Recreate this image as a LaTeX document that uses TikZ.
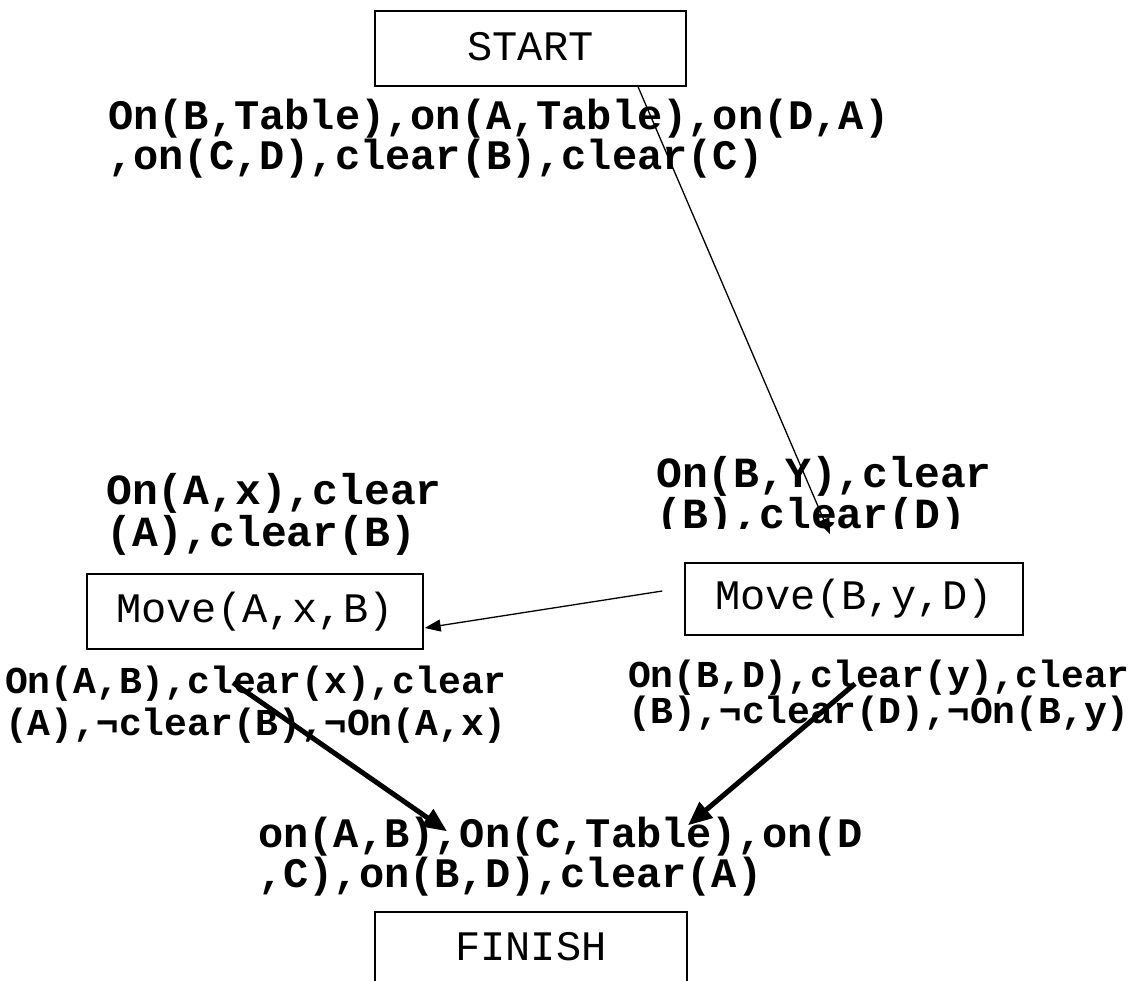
\documentclass[tikz,border=0pt]{standalone}
\usepackage{fontspec}
\newfontfamily\mono{Liberation Mono}
\usetikzlibrary{arrows.meta}
% bold condition text: #1 = size, #2 = line distance
\newcommand\condfont[2]{\mono\bfseries\fontsize{#1}{#2}\selectfont}
\begin{document}
\begin{tikzpicture}[
  x=1pt, y=-1pt,
  stepbox/.style={draw, line width=1.4pt, inner sep=0pt, minimum height=75pt,
    font=\mono\fontsize{42}{48}\selectfont},
  % multi-line nodes: the base anchor sits on the last line
  condl/.style={inner sep=0pt, align=left, anchor=base west},
  condc/.style={inner sep=0pt, align=center, anchor=base},
  thinarrow/.style={line width=1.3pt, -{Triangle[length=16pt,width=12pt]}},
  thickarrow/.style={line width=5pt, -{Triangle[length=24pt,width=20pt]}},
]
\useasboundingbox (0,0) rectangle (1133,981);
\clip (0,0) rectangle (1133,981);

% action boxes
\node[stepbox, minimum width=311pt] (start) at (530.5,48.5) {\raisebox{5pt}{START}};
\node[stepbox, minimum width=336pt] (moveA) at (255,611.5) {\raisebox{5pt}{Move(A,x,B)}};
\node[stepbox, minimum width=338pt, minimum height=72pt] (moveB) at (854,599) {\raisebox{3pt}{Move(B,y,D)}};
\node[stepbox, minimum width=312pt] (finish) at (531,949.5) {\raisebox{6pt}{FINISH}};

% conditions
\node[condl, font=\condfont{42}{40}] (initial) at (108,170)
  {On(B,Table),on(A,Table),on(D,A)\\,on(C,D),clear(B),clear(C)};
\node[condl, font=\condfont{43}{36}] (preA) at (106,546)
  {On(A,x),clear\\(A),clear(B)};
\begin{scope}
  \clip (0,0) rectangle (1133,528);
  \node[condl, font=\condfont{43}{42}] (preB) at (656,529)
    {On(B,Y),clear\\(B),clear(D)};
\end{scope}
\node[condc, font=\condfont{38}{42}] (effA) at (256,735)
  {On(A,B),clear(x),clear\\(A),¬clear(B),¬On(A,x)};
\node[condc, font=\condfont{38}{36}] (effB) at (879,723)
  {On(B,D),clear(y),clear\\(B),¬clear(D),¬On(B,y)};
\node[condl, font=\condfont{42}{40}] (goal) at (258,887)
  {on(A,B),On(C,Table),on(D\\,C),on(B,D),clear(A)};

% ordering links
\draw[thinarrow] ([xshift=107.5pt]start.south) -- ([xshift=-24pt,yshift=28pt]moveB.north);
\draw[thinarrow] ([xshift=-22pt,yshift=8pt]moveB.west) -- ([xshift=1pt,yshift=-16.5pt]moveA.east);
\draw[thickarrow] ([xshift=-22pt,yshift=-33pt]moveA.south) -- ([xshift=-84pt,yshift=80pt]finish.north);
\draw[thickarrow] ([xshift=1pt,yshift=-48pt]moveB.south) -- ([xshift=157pt,yshift=86pt]finish.north);
\end{tikzpicture}
\end{document}
